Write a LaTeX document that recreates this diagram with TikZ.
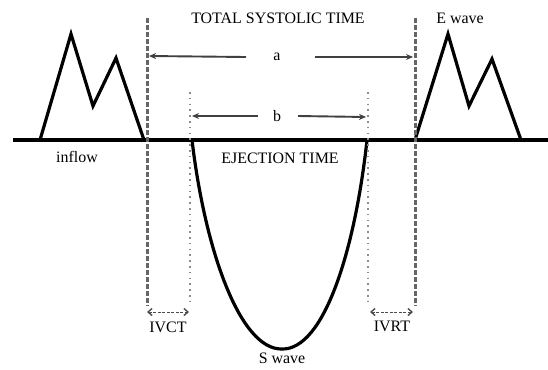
\documentclass[tikz,border=0pt]{standalone}
\usepackage{fontspec}
\setmainfont{Liberation Serif}
\usetikzlibrary{arrows.meta}

\tikzset{
    wave/.style={line width=3.2bp, black, line join=miter},
    axis/.style={line width=3.2bp, black},
    bigdash/.style={line width=3bp, black!60, dash pattern=on 4.5bp off 2.5bp},
    smalldot/.style={line width=2.6bp, black!45, dash pattern=on 1.6bp off 4.2bp},
    spanarrow/.style={line width=1.9bp, black!75, -{Stealth[length=7bp,width=6bp]}},
    gaparrow/.style={line width=0.9bp, black!70, dash pattern=on 3bp off 1.5bp,
        {Straight Barb[length=4bp,width=7bp,line width=1.4bp]}-{Straight Barb[length=4bp,width=7bp,line width=1.4bp]}},
    lbl/.style={font=\fontsize{16}{18}\selectfont, inner sep=0pt}
}

\begin{document}
\begin{tikzpicture}[x=1bp, y=-1bp]
    \useasboundingbox[fill=white] (0,0) rectangle (548,369);

    % Draw baseline
    \coordinate (base-l) at (13,140);
    \coordinate (base-r) at (548,140);
    \draw[axis] (base-l) -- (base-r);

    % Draw inflow waves
    \draw[wave] (40,140) -- (71,34) -- (93,106) -- (116,58) -- (144,140);
    \draw[wave] (415,140) -- (448,34) -- (469,106) -- (492,59) -- (521,140);

    % Draw S wave
    \coordinate (s-start) at (192,140);
    \coordinate (s-low) at (282,349);
    \coordinate (s-end) at (367,140);
    \draw[wave] (s-start) .. controls (205,250) and (240,350) .. (s-low)
        .. controls (324,350) and (355,250) .. (s-end);

    % Vertical markers
    \coordinate (a-top) at (147,18);
    \coordinate (a-bot) at (147,306);
    \coordinate (a2-top) at (415,18);
    \coordinate (a2-bot) at (415,306);
    \coordinate (b-top) at (190,92);
    \coordinate (b-bot) at (190,306);
    \coordinate (b2-top) at (368,92);
    \coordinate (b2-bot) at (368,306);
    \draw[bigdash] (a-top) -- (a-bot);
    \draw[bigdash] (a2-top) -- (a2-bot);
    \draw[smalldot] (b-top) -- (b-bot);
    \draw[smalldot] (b2-top) -- (b2-bot);

    % Labels
    \node[lbl] (total) at (278,18) {TOTAL SYSTOLIC TIME};
    \node[lbl] (ewave) at (460,18) {E wave};
    \node[lbl] (a) at (277,57) {a};
    \node[lbl] (b) at (277,116) {b};
    \node[lbl] (inflow) at (77,157) {inflow};
    \node[lbl] (eject) at (280,158) {EJECTION TIME};
    \node[lbl] (ivct) at (168,327) {IVCT};
    \node[lbl] (ivrt) at (392,326) {IVRT};
    \node[lbl, anchor=south] (swave) at (282,364) {S wave};

    % Draw span arrows
    \coordinate (a-l) at (149,56);
    \coordinate (a-r) at (413,57);
    \coordinate (b-l) at (192,116);
    \coordinate (b-r) at (366,117);
    \draw[spanarrow] ([xshift=-31bp]a.center) -- (a-l);
    \draw[spanarrow] ([xshift=38bp]a.center) -- (a-r);
    \draw[spanarrow] ([xshift=-19bp]b.center) -- (b-l);
    \draw[spanarrow] ([xshift=21bp]b.center) -- (b-r);

    % Draw gap arrows
    \coordinate (ivct-l) at (147,312);
    \coordinate (ivct-r) at (189,312);
    \coordinate (ivrt-l) at (370,312);
    \coordinate (ivrt-r) at (413,312);
    \draw[gaparrow] (ivct-l) -- (ivct-r);
    \draw[gaparrow] (ivrt-l) -- (ivrt-r);
\end{tikzpicture}
\end{document}
